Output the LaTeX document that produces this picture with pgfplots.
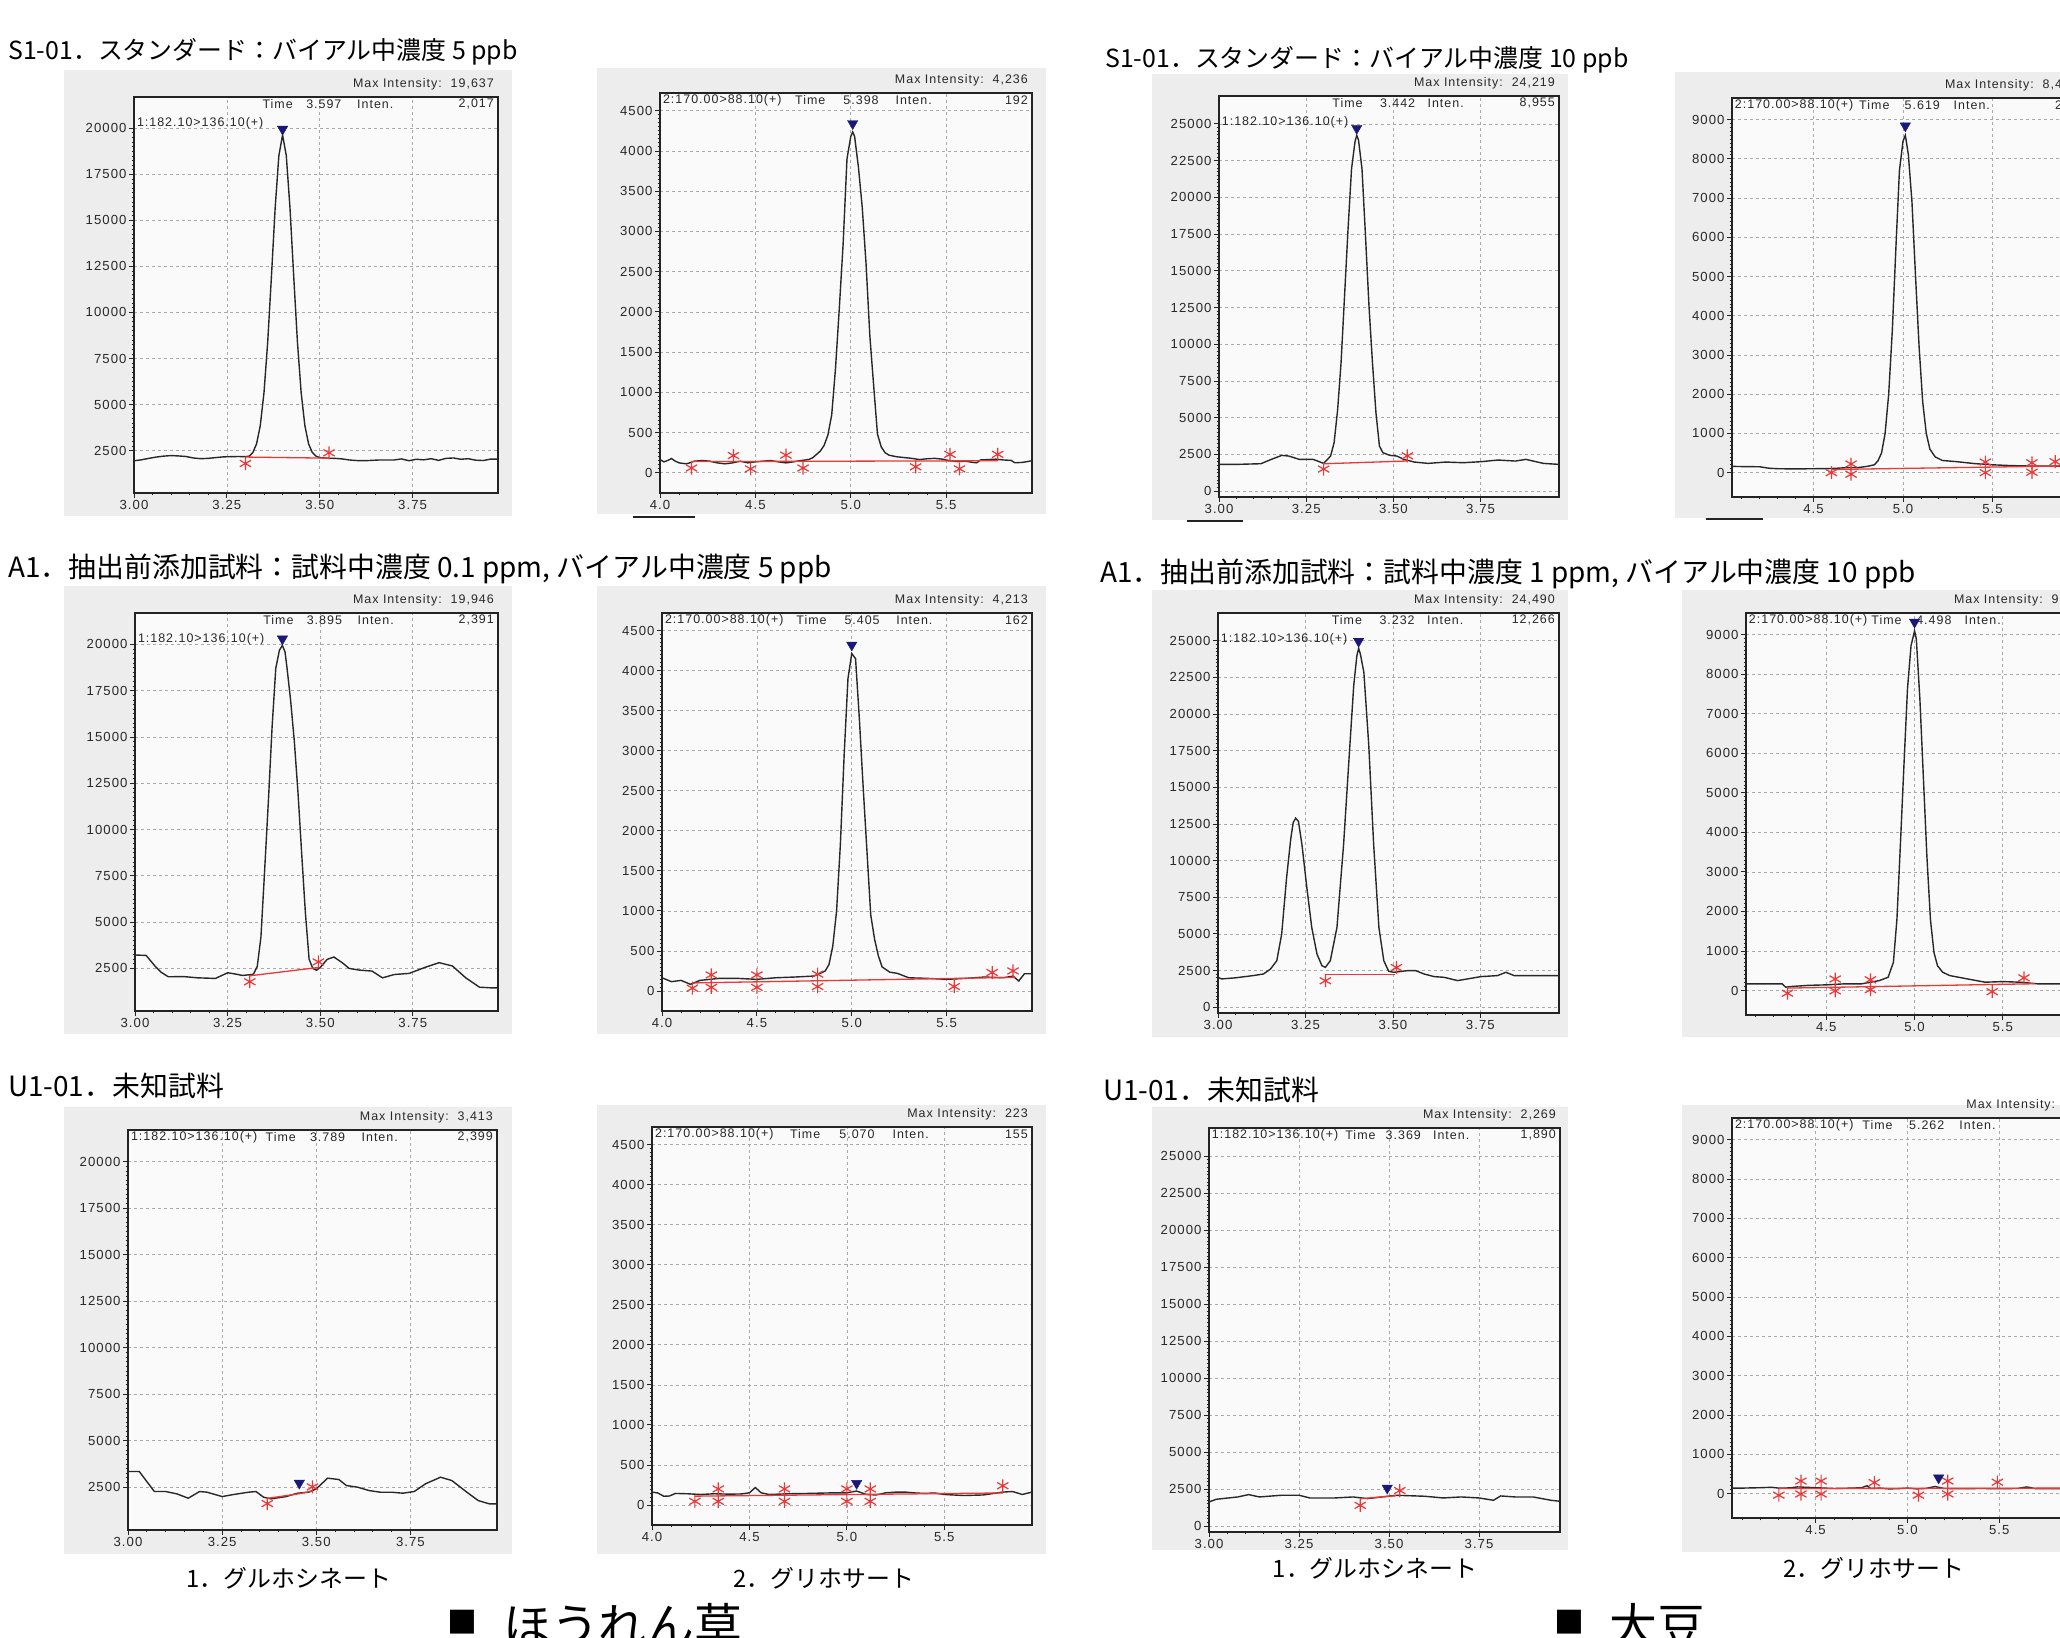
\documentclass[border=0pt]{standalone}
\usepackage{fontspec}
\usepackage{pgfplots}
\pgfplotsset{compat=1.18}
\setmainfont{Liberation Sans}
\newfontfamily\jp{Noto Sans CJK JP}
\newfontfamily\annfont{Liberation Sans}[LetterSpace=8]
\definecolor{boxc}{RGB}{237,237,237}
\definecolor{plotbg}{RGB}{250,250,250}
\definecolor{gridc}{RGB}{170,170,170}
\definecolor{tracec}{RGB}{40,40,40}
\definecolor{redc}{RGB}{235,55,55}
\definecolor{navyc}{RGB}{25,25,120}
\definecolor{tickc}{RGB}{40,40,40}
\definecolor{framec}{RGB}{35,35,35}
\makeatletter
\newcommand\fixbb{\global\pgf@relevantforpicturesizetrue}
\makeatother
\newcommand\tickf{\annfont\fontsize{13.2}{14}\selectfont}
\newcommand\annf{\annfont\fontsize{12.5}{13}\selectfont}
\tikzset{ann/.style={font=\annf, text=tickc, inner sep=1bp}}
\newcommand\annmax[1]{\node[ann,anchor=east,xshift=-3bp,yshift=13bp] at (rel axis cs:1,1) {Max Intensity:\ \ #1};}
\newcommand\annline[2]{\node[ann,anchor=west,yshift=-7bp] at (rel axis cs:#1,1) {#2};}
\newcommand\annright[1]{\node[ann,anchor=east,xshift=-3bp,yshift=-7bp] at (rel axis cs:1,1) {#1};}
\newcommand\annchan[1]{\node[ann,anchor=west,yshift=-26bp] at (rel axis cs:0.005,1) {#1};}
\newcommand\jpt[1]{\jp\fontsize{#1}{#1}\selectfont}
\pgfplotsset{
 chrom/.style={scale only axis, clip=false, anchor=south west,
  scaled ticks=false,
  axis background/.style={fill=plotbg},
  axis line style={draw=framec, line width=1.5bp},
  xmajorgrids, ymajorgrids,
  major grid style={draw=gridc, line width=0.7bp, dash pattern=on 3bp off 3bp},
  tick align=outside, tick pos=left,
  major tick length=5bp, minor tick length=2.5bp,
  tick style={draw=framec, line width=0.8bp},
  minor x tick num=4, minor y tick num=9,
  tick label style={font=\tickf, text=tickc},
  yticklabel style={xshift=1bp},
  xticklabel style={yshift=1bp}},
 gsp/.style={chrom, xmin=3, xmax=3.98, ymin=200, ymax=21700,
  xtick={3,3.25,3.5,3.75}, xticklabels={3.00,3.25,3.50,3.75},
  ytick={2500,5000,7500,10000,12500,15000,17500,20000},
  yticklabels={2500,5000,7500,10000,12500,15000,17500,20000}},
 gsoy/.style={chrom, xmin=3, xmax=3.975, ymin=-400, ymax=26900,
  xtick={3,3.25,3.5,3.75}, xticklabels={3.00,3.25,3.50,3.75},
  ytick={0,2500,5000,7500,10000,12500,15000,17500,20000,22500,25000},
  yticklabels={0,2500,5000,7500,10000,12500,15000,17500,20000,22500,25000}},
 ysp/.style={chrom, xmin=4, xmax=5.95, ymin=-250, ymax=4720,
  xtick={4,4.5,5,5.5}, xticklabels={4.0,4.5,5.0,5.5},
  ytick={0,500,1000,1500,2000,2500,3000,3500,4000,4500},
  yticklabels={0,500,1000,1500,2000,2500,3000,3500,4000,4500}},
 ysoy/.style={chrom, xmin=4.045, xmax=6.0, ymin=-620, ymax=9550,
  xtick={4,4.5,5,5.5}, xticklabels={4.0,4.5,5.0,5.5},
  ytick={0,1000,2000,3000,4000,5000,6000,7000,8000,9000},
  yticklabels={0,1000,2000,3000,4000,5000,6000,7000,8000,9000}},
 trace/.style={draw=tracec, line width=1.4bp, no markers},
 base/.style={draw=redc, line width=1.3bp, no markers},
 star/.style={only marks, mark=asterisk, mark size=6.5bp, mark options={draw=redc, line width=1.2bp}},
 apex/.style={only marks, mark=triangle*, mark size=6bp, mark options={rotate=180, fill=navyc, draw=navyc}},
}
\begin{document}
\begin{tikzpicture}[x=1bp,y=1bp]
\clip (0,0) rectangle (2060,1638);
\fill[white] (0,0) rectangle (2060,1638);
% gray boxes
\fill[boxc] (64,1122) rectangle (512,1568);
\fill[boxc] (597,1124) rectangle (1046,1570);
\fill[boxc] (1152,1118) rectangle (1568,1564);
\fill[boxc] (1675,1120) rectangle (2100,1566);
\fill[boxc] (64,604) rectangle (512,1052);
\fill[boxc] (597,604) rectangle (1046,1052);
\fill[boxc] (1152,601) rectangle (1568,1048);
\fill[boxc] (1682,601) rectangle (2100,1048);
\fill[boxc] (64,84) rectangle (512,531);
\fill[boxc] (597,84) rectangle (1046,533);
\fill[boxc] (1152,88) rectangle (1568,531);
\fill[boxc] (1682,86) rectangle (2100,533);
\draw[line width=2bp, framec] (633,1121) -- (695,1121);
\draw[line width=2bp, framec] (1187,1117) -- (1243,1117);
\draw[line width=2bp, framec] (1706,1119) -- (1763,1119);
% titles
\node[anchor=west, inner sep=0] at (8,1586) {\jpt{25}S1-01．スタンダード：バイアル中濃度 5 ppb};
\node[anchor=west, inner sep=0] at (1105,1578) {\jpt{25}S1-01．スタンダード：バイアル中濃度 10 ppb};
\node[anchor=west, inner sep=0] at (8,1069) {\jpt{28}A1．抽出前添加試料：試料中濃度 0.1 ppm, バイアル中濃度 5 ppb};
\node[anchor=west, inner sep=0] at (1100,1064) {\jpt{28}A1．抽出前添加試料：試料中濃度 1 ppm, バイアル中濃度 10 ppb};
\node[anchor=west, inner sep=0] at (8,552) {\jpt{28}U1-01．未知試料};
\node[anchor=west, inner sep=0] at (1103,548) {\jpt{28}U1-01．未知試料};
% bottom labels
\node[inner sep=0] at (289,60) {\jpt{24}1．グルホシネート};
\node[inner sep=0] at (1375,70) {\jpt{24}1．グルホシネート};
\node[inner sep=0] at (824,60) {\jpt{24}2．グリホサート};
\node[inner sep=0] at (1874,70) {\jpt{24}2．グリホサート};
\node[anchor=base west, inner sep=0] at (447,4) {\jpt{30}■};
\node[anchor=base west, inner sep=0] at (503,-6) {\jpt{48}ほうれん草};
\node[anchor=base west, inner sep=0] at (1554,4) {\jpt{30}■};
\node[anchor=base west, inner sep=0] at (1609,-6) {\jpt{48}大豆};

% ---------------- Row 1 ----------------
\begin{axis}[gsp, at={(134bp,1145bp)}, width=364bp, height=396bp]
\addplot[trace] coordinates {(3.00,1950)(3.02,2000)(3.04,2080)(3.06,2150)(3.08,2200)(3.10,2230)(3.12,2210)(3.14,2180)(3.16,2100)(3.18,2060)(3.20,2080)(3.22,2120)(3.24,2160)(3.26,2170)(3.28,2180)(3.30,2170)(3.31,2200)(3.32,2396)(3.33,2868)(3.34,3862)(3.35,5653)(3.36,8400)(3.37,11953)(3.38,15663)(3.39,18515)(3.40,19637)(3.41,18515)(3.42,15663)(3.43,11953)(3.44,8400)(3.45,5653)(3.46,3862)(3.47,2868)(3.48,2396)(3.49,2200)(3.50,2120)(3.52,2090)(3.54,2080)(3.56,2050)(3.58,1990)(3.60,1960)(3.63,1960)(3.66,1990)(3.70,1990)(3.72,2050)(3.74,1950)(3.76,2030)(3.78,2000)(3.80,2060)(3.82,1970)(3.84,2080)(3.86,2100)(3.88,2030)(3.90,2060)(3.92,1980)(3.94,1960)(3.96,2040)(3.98,2040)};
\addplot[base] coordinates {(3.30,2150)(3.525,2090)};
\addplot[star] coordinates {(3.30,1800)(3.525,2380)};
\addplot[apex] coordinates {(3.40,19950)};
\annmax{19,637}\annline{0.35}{Time}\annline{0.47}{3.597}\annline{0.61}{Inten.}\annright{2,017}\annchan{1:182.10>136.10(+)}
\end{axis}

\begin{axis}[ysp, at={(660bp,1145bp)}, width=372bp, height=400bp]
\addplot[trace] coordinates {(4.00,166)(4.02,137)(4.04,153)(4.06,178)(4.08,145)(4.10,124)(4.14,112)(4.18,145)(4.22,153)(4.26,145)(4.30,124)(4.34,112)(4.38,124)(4.42,145)(4.46,124)(4.50,137)(4.54,145)(4.58,153)(4.62,137)(4.66,124)(4.70,137)(4.74,153)(4.78,166)(4.80,187)(4.82,228)(4.84,270)(4.86,340)(4.88,470)(4.90,720)(4.92,1300)(4.94,2050)(4.96,2850)(4.98,3900)(5.00,4180)(5.01,4236)(5.02,4180)(5.04,3800)(5.06,3300)(5.08,2600)(5.10,1700)(5.12,1080)(5.14,480)(5.16,320)(5.18,250)(5.20,220)(5.24,200)(5.28,190)(5.32,180)(5.36,165)(5.40,175)(5.44,180)(5.48,170)(5.52,150)(5.56,140)(5.60,145)(5.64,130)(5.66,125)(5.68,160)(5.72,165)(5.76,170)(5.80,160)(5.84,155)(5.86,125)(5.90,130)(5.95,150)};
\addplot[base] coordinates {(4.165,140)(5.77,150)};
\addplot[star] coordinates {(4.165,60)(4.385,215)(4.475,50)(4.66,220)(4.75,60)(5.34,75)(5.52,230)(5.57,50)(5.77,230)};
\addplot[apex] coordinates {(5.01,4340)};
\annmax{4,236}\annline{0.005}{2:170.00>88.10(+)}\annline{0.36}{Time}\annline{0.49}{5.398}\annline{0.63}{Inten.}\annright{192}
\end{axis}

\begin{axis}[gsoy, at={(1219bp,1141bp)}, width=340bp, height=401bp]
\addplot[trace] coordinates {(3.00,1818)(3.05,1818)(3.12,1864)(3.15,2159)(3.18,2432)(3.20,2386)(3.23,2159)(3.27,2159)(3.30,1886)(3.32,2386)(3.33,3295)(3.34,5500)(3.35,8750)(3.36,13295)(3.37,17840)(3.38,21932)(3.39,23800)(3.395,24219)(3.40,23900)(3.41,21932)(3.42,17386)(3.43,12614)(3.44,8750)(3.45,5341)(3.46,3068)(3.47,2614)(3.49,2432)(3.51,2386)(3.53,2159)(3.56,1977)(3.60,1886)(3.65,1977)(3.70,1932)(3.75,2000)(3.80,2114)(3.85,2045)(3.88,2159)(3.93,1886)(3.975,1818)};
\addplot[base] coordinates {(3.30,1860)(3.54,2050)};
\addplot[star] coordinates {(3.30,1500)(3.54,2400)};
\addplot[apex] coordinates {(3.395,24700)};
\annmax{24,219}\annline{0.33}{Time}\annline{0.47}{3.442}\annline{0.61}{Inten.}\annright{8,955}\annchan{1:182.10>136.10(+)}
\end{axis}

\begin{axis}[ysoy, at={(1732bp,1141bp)}, width=350bp, height=399bp]
\addplot[trace] coordinates {(4.045,160)(4.10,155)(4.20,150)(4.24,120)(4.26,110)(4.30,100)(4.40,95)(4.50,100)(4.60,105)(4.66,120)(4.70,130)(4.75,130)(4.80,160)(4.84,200)(4.86,300)(4.88,500)(4.90,1000)(4.92,2000)(4.94,3600)(4.96,5700)(4.98,7700)(5.00,8450)(5.013,8600)(5.03,8100)(5.05,6900)(5.07,5000)(5.09,3200)(5.11,1800)(5.13,1000)(5.15,600)(5.18,400)(5.22,310)(5.30,280)(5.40,230)(5.50,200)(5.60,180)(5.70,170)(5.80,170)(5.90,165)(6.00,160)};
\addplot[base] coordinates {(4.60,80)(5.90,170)};
\addplot[star] coordinates {(4.60,0)(4.71,220)(4.71,-40)(5.46,270)(5.46,0)(5.72,250)(5.72,10)(5.85,280)};
\addplot[apex] coordinates {(5.013,8840)};
\annmax{8,467}\annline{0.005}{2:170.00>88.10(+)}\annline{0.36}{Time}\annline{0.49}{5.619}\annline{0.63}{Inten.}\annright{218}
\end{axis}

% ---------------- Row 2 ----------------
\begin{axis}[gsp, at={(135bp,627bp)}, width=363bp, height=398bp]
\addplot[trace] coordinates {(3.00,3225)(3.03,3200)(3.054,2627)(3.07,2300)(3.09,2047)(3.13,2060)(3.17,1990)(3.20,1970)(3.217,1956)(3.25,2264)(3.27,2200)(3.29,2120)(3.316,2170)(3.32,2200)(3.33,2600)(3.34,4200)(3.35,7800)(3.36,11500)(3.37,15500)(3.38,18700)(3.39,19700)(3.398,19946)(3.405,19600)(3.41,18800)(3.42,17000)(3.43,14800)(3.44,12000)(3.45,8700)(3.46,5500)(3.47,3000)(3.48,2500)(3.49,2400)(3.50,2550)(3.519,2990)(3.537,3116)(3.56,2800)(3.578,2500)(3.605,2410)(3.64,2355)(3.668,1990)(3.70,2170)(3.74,2230)(3.785,2570)(3.821,2810)(3.857,2630)(3.893,1990)(3.93,1485)(3.961,1450)(3.98,1450)};
\addplot[base] coordinates {(3.31,2100)(3.495,2550)};
\addplot[star] coordinates {(3.31,1780)(3.495,2850)};
\addplot[apex] coordinates {(3.398,20300)};
\annmax{19,946}\annline{0.35}{Time}\annline{0.47}{3.895}\annline{0.61}{Inten.}\annright{2,391}\annchan{1:182.10>136.10(+)}
\end{axis}

\begin{axis}[ysp, at={(662bp,627bp)}, width=370bp, height=398bp]
\addplot[trace] coordinates {(4.00,165)(4.05,116)(4.10,132)(4.15,83)(4.20,132)(4.30,157)(4.40,157)(4.50,145)(4.60,165)(4.70,174)(4.80,186)(4.84,227)(4.86,250)(4.88,330)(4.90,560)(4.92,1000)(4.94,1830)(4.96,2950)(4.98,3900)(5.00,4213)(5.02,4150)(5.04,3400)(5.06,2550)(5.08,1750)(5.10,950)(5.12,650)(5.14,440)(5.16,300)(5.20,235)(5.24,220)(5.30,165)(5.40,157)(5.50,145)(5.60,157)(5.70,174)(5.80,165)(5.85,186)(5.88,124)(5.91,215)(5.95,215)};
\addplot[base] coordinates {(4.16,100)(5.86,170)};
\addplot[star] coordinates {(4.16,35)(4.26,200)(4.26,45)(4.50,200)(4.50,45)(4.82,210)(4.82,55)(5.54,55)(5.74,230)(5.85,250)};
\addplot[apex] coordinates {(5.00,4320)};
\annmax{4,213}\annline{0.005}{2:170.00>88.10(+)}\annline{0.36}{Time}\annline{0.49}{5.405}\annline{0.63}{Inten.}\annright{162}
\end{axis}

\begin{axis}[gsoy, at={(1218bp,625bp)}, width=341bp, height=400bp]
\addplot[trace] coordinates {(3.00,2036)(3.01,1923)(3.05,2000)(3.10,2150)(3.13,2262)(3.15,2600)(3.168,3167)(3.182,4977)(3.196,8823)(3.208,11500)(3.215,12600)(3.222,12896)(3.23,12670)(3.24,11086)(3.254,8145)(3.268,5430)(3.283,3620)(3.297,2828)(3.307,2715)(3.321,3167)(3.34,5430)(3.359,11086)(3.374,16742)(3.388,21946)(3.397,23982)(3.402,24490)(3.407,24095)(3.417,22851)(3.431,17873)(3.445,11086)(3.46,5430)(3.474,3167)(3.488,2443)(3.503,2376)(3.541,2489)(3.565,2489)(3.589,2262)(3.618,2081)(3.646,2036)(3.685,1810)(3.713,1923)(3.751,2081)(3.799,2150)(3.823,2376)(3.847,2150)(3.895,2150)(3.975,2150)};
\addplot[base] coordinates {(3.307,2250)(3.505,2250)};
\addplot[star] coordinates {(3.307,1800)(3.51,2700)};
\addplot[apex] coordinates {(3.402,24970)};
\annmax{24,490}\annline{0.33}{Time}\annline{0.47}{3.232}\annline{0.61}{Inten.}\annright{12,266}\annchan{1:182.10>136.10(+)}
\end{axis}

\begin{axis}[ysoy, at={(1746bp,623bp)}, width=345bp, height=402bp]
\addplot[trace] coordinates {(4.045,167)(4.10,167)(4.20,167)(4.25,167)(4.27,83)(4.30,100)(4.40,130)(4.50,142)(4.60,167)(4.70,167)(4.80,250)(4.85,334)(4.88,710)(4.90,1795)(4.92,3715)(4.94,5718)(4.96,7638)(4.98,8723)(5.00,9098)(5.01,8890)(5.03,7387)(5.05,5384)(5.07,3381)(5.09,1795)(5.11,960)(5.13,626)(5.16,459)(5.20,376)(5.30,292)(5.40,209)(5.50,225)(5.60,209)(5.70,167)(5.80,167)(5.90,167)(6.00,167)};
\addplot[base] coordinates {(4.28,60)(5.68,170)};
\addplot[star] coordinates {(4.28,-70)(4.55,290)(4.55,-10)(4.75,270)(4.75,20)(5.44,-30)(5.62,320)};
\addplot[apex] coordinates {(5.00,9320)};
\annmax{9,098}\annline{0.005}{2:170.00>88.10(+)}\annline{0.36}{Time}\annline{0.49}{4.498}\annline{0.63}{Inten.}\annright{166}
\end{axis}

% ---------------- Row 3 ----------------
\begin{axis}[gsp, at={(128bp,108bp)}, width=369bp, height=400bp]
\addplot[trace] coordinates {(3.00,3343)(3.03,3343)(3.07,2267)(3.10,2267)(3.13,2141)(3.16,1908)(3.19,2267)(3.21,2231)(3.25,1997)(3.28,2105)(3.32,2231)(3.34,2267)(3.36,1962)(3.38,1872)(3.42,1997)(3.45,2177)(3.48,2231)(3.50,2410)(3.53,2985)(3.56,2913)(3.58,2590)(3.61,2500)(3.64,2321)(3.67,2231)(3.70,2231)(3.73,2177)(3.76,2267)(3.79,2680)(3.83,3038)(3.86,2859)(3.90,2231)(3.93,1782)(3.96,1603)(3.98,1603)};
\addplot[base] coordinates {(3.37,1900)(3.455,2150)(3.49,2300)};
\addplot[star] coordinates {(3.37,1620)(3.49,2520)};
\addplot[apex] coordinates {(3.455,2720)};
\annmax{3,413}\annline{0.005}{1:182.10>136.10(+)}\annline{0.37}{Time}\annline{0.49}{3.789}\annline{0.63}{Inten.}\annright{2,399}
\end{axis}

\begin{axis}[ysp, at={(652bp,113bp)}, width=380bp, height=398bp]
\addplot[trace] coordinates {(4.00,161)(4.03,150)(4.06,109)(4.09,112)(4.12,144)(4.18,140)(4.25,131)(4.32,140)(4.40,135)(4.46,138)(4.50,152)(4.53,218)(4.56,152)(4.60,131)(4.70,140)(4.80,144)(4.90,150)(5.00,152)(5.05,174)(5.10,131)(5.15,125)(5.20,152)(5.25,160)(5.30,161)(5.35,150)(5.40,144)(5.45,150)(5.50,131)(5.60,118)(5.70,125)(5.80,161)(5.85,168)(5.90,131)(5.95,161)};
\addplot[base] coordinates {(4.22,110)(5.80,150)};
\addplot[star] coordinates {(4.22,45)(4.34,200)(4.34,45)(4.68,200)(4.68,45)(5.00,200)(5.00,45)(5.12,200)(5.12,45)(5.80,240)};
\addplot[apex] coordinates {(5.05,270)};
\annmax{223}\annline{0.005}{2:170.00>88.10(+)}\annline{0.36}{Time}\annline{0.49}{5.070}\annline{0.63}{Inten.}\annright{155}
\end{axis}

\begin{axis}[gsoy, at={(1209bp,106bp)}, width=351bp, height=404bp]
\addplot[trace] coordinates {(3.00,1629)(3.02,1810)(3.08,1968)(3.11,2127)(3.14,1968)(3.20,2081)(3.25,2081)(3.28,1900)(3.35,1900)(3.40,1968)(3.44,1855)(3.48,1968)(3.52,2081)(3.60,2014)(3.65,1900)(3.70,1968)(3.75,1900)(3.79,1742)(3.81,2036)(3.85,1968)(3.90,1968)(3.95,1742)(3.975,1674)};
\addplot[base] coordinates {(3.42,1850)(3.52,2050)};
\addplot[star] coordinates {(3.42,1400)(3.53,2400)};
\addplot[apex] coordinates {(3.495,2570)};
\annmax{2,269}\annline{0.005}{1:182.10>136.10(+)}\annline{0.385}{Time}\annline{0.50}{3.369}\annline{0.635}{Inten.}\annright{1,890}
\end{axis}

\begin{axis}[ysoy, at={(1732bp,120bp)}, width=359bp, height=400bp]
\addplot[trace] coordinates {(4.045,140)(4.10,140)(4.20,150)(4.26,160)(4.30,140)(4.36,145)(4.40,170)(4.45,160)(4.50,150)(4.55,140)(4.60,130)(4.70,140)(4.75,150)(4.78,200)(4.80,130)(4.85,140)(4.90,120)(4.95,125)(5.00,140)(5.05,120)(5.10,130)(5.15,180)(5.20,130)(5.30,125)(5.40,130)(5.50,125)(5.60,130)(5.65,170)(5.70,125)(5.80,125)(5.90,125)(6.00,125)};
\addplot[base] coordinates {(4.30,130)(5.90,140)};
\addplot[star] coordinates {(4.30,-40)(4.42,320)(4.42,-10)(4.53,320)(4.53,-10)(4.82,280)(5.06,-40)(5.22,320)(5.22,-10)(5.49,290)};
\addplot[apex] coordinates {(5.17,400)};
\annmax{171}\annline{0.005}{2:170.00>88.10(+)}\annline{0.36}{Time}\annline{0.49}{5.262}\annline{0.63}{Inten.}\annright{131}
\end{axis}

\pgfresetboundingbox
\fixbb
\path (0,0) rectangle (2060,1638);
\end{tikzpicture}
\end{document}
